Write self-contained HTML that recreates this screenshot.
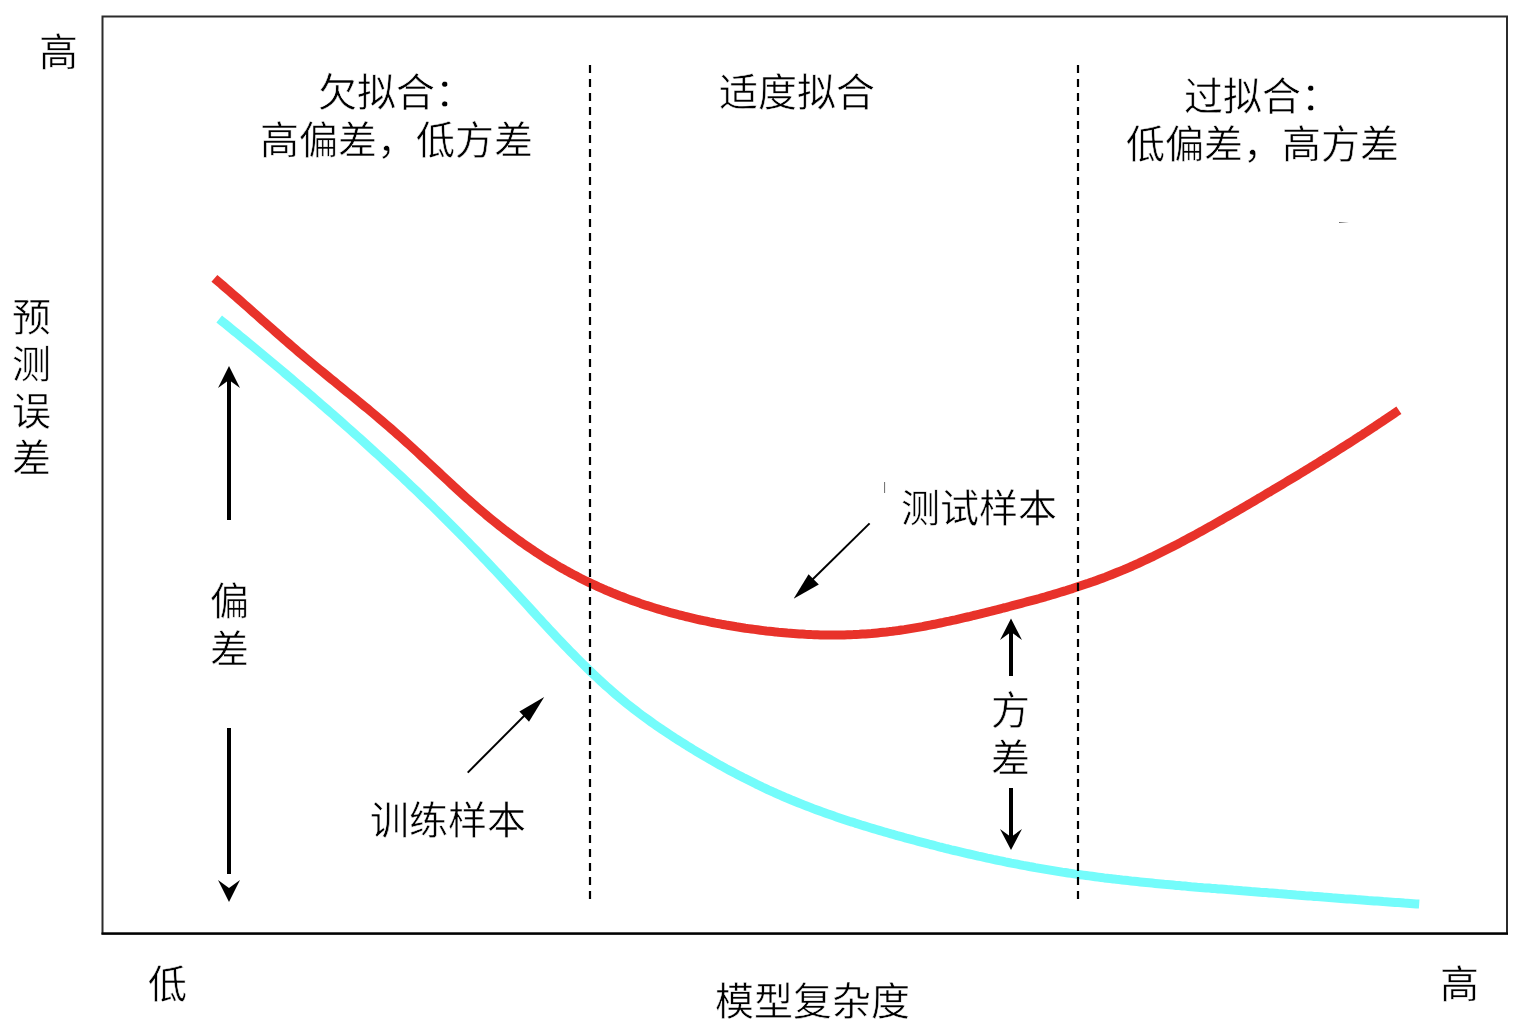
<!DOCTYPE html>
<html lang="zh-CN">
<head>
<meta charset="utf-8">
<title>偏差与方差</title>
<style>
html,body{margin:0;padding:0;background:#fff;}
body{width:1536px;height:1028px;position:relative;overflow:hidden;font-family:"Liberation Sans",sans-serif;color:#000;}
svg{position:absolute;left:0;top:0;}
.t{position:absolute;font-size:39px;line-height:48px;white-space:nowrap;-webkit-text-stroke:0.5px #fff;will-change:transform;paint-order:fill stroke;}
.c{text-align:center;}
.v{width:40px;text-align:center;}
</style>
</head>
<body>
<svg width="1536" height="1028" viewBox="0 0 1536 1028">
  <path d="M102.5,16.5 H1507 V933.5 H102.5 Z" fill="none" stroke="#2b2b2b" stroke-width="2"/>
  <line x1="101.5" y1="933.6" x2="1508" y2="933.6" stroke="#000" stroke-width="2.2"/>
  <path d="M214.4,278.3 L217.4,280.9 L220.4,283.4 L223.4,286.0 L226.4,288.6 L229.4,291.2 L232.4,293.8 L235.4,296.4 L238.4,299.0 L241.4,301.7 L244.4,304.3 L247.4,306.9 L250.4,309.6 L253.4,312.3 L256.4,314.9 L259.4,317.6 L262.4,320.3 L265.4,322.9 L268.4,325.6 L271.4,328.2 L274.4,330.9 L277.4,333.5 L280.4,336.2 L283.4,338.8 L286.4,341.4 L289.4,344.0 L292.4,346.6 L295.4,349.2 L298.4,351.8 L301.4,354.3 L304.4,356.9 L307.4,359.4 L310.4,361.9 L313.4,364.4 L316.4,366.9 L319.4,369.4 L322.4,371.8 L325.4,374.3 L328.4,376.8 L331.4,379.2 L334.4,381.6 L337.4,384.1 L340.4,386.5 L343.4,389.0 L346.4,391.4 L349.4,393.9 L352.4,396.3 L355.4,398.8 L358.4,401.2 L361.4,403.7 L364.4,406.2 L367.4,408.6 L370.4,411.1 L373.4,413.6 L376.4,416.2 L379.4,418.7 L382.4,421.2 L385.4,423.8 L388.4,426.4 L391.4,429.0 L394.4,431.6 L397.4,434.3 L400.4,436.9 L403.4,439.6 L406.4,442.3 L409.4,445.0 L412.4,447.8 L415.4,450.5 L418.4,453.3 L421.4,456.1 L424.4,458.9 L427.4,461.7 L430.4,464.5 L433.4,467.3 L436.4,470.1 L439.4,472.9 L442.4,475.7 L445.4,478.5 L448.4,481.3 L451.4,484.1 L454.4,486.8 L457.4,489.6 L460.4,492.3 L463.4,495.1 L466.4,497.8 L469.4,500.4 L472.4,503.1 L475.4,505.7 L478.4,508.3 L481.4,510.9 L484.4,513.4 L487.4,516.0 L490.4,518.4 L493.4,520.9 L496.4,523.3 L499.4,525.7 L502.4,528.0 L505.4,530.4 L508.4,532.6 L511.4,534.9 L514.4,537.1 L517.4,539.3 L520.4,541.5 L523.4,543.6 L526.4,545.7 L529.4,547.8 L532.4,549.8 L535.4,551.9 L538.4,553.8 L541.4,555.8 L544.4,557.7 L547.4,559.6 L550.4,561.4 L553.4,563.2 L556.4,565.0 L559.4,566.8 L562.4,568.5 L565.4,570.2 L568.4,571.8 L571.4,573.5 L574.4,575.1 L577.4,576.6 L580.4,578.2 L583.4,579.7 L586.4,581.2 L589.4,582.6 L592.4,584.0 L595.4,585.4 L598.4,586.8 L601.4,588.1 L604.4,589.5 L607.4,590.8 L610.4,592.0 L613.4,593.3 L616.4,594.5 L619.4,595.7 L622.4,596.8 L625.4,598.0 L628.4,599.1 L631.4,600.2 L634.4,601.3 L637.4,602.3 L640.4,603.4 L643.4,604.4 L646.4,605.4 L649.4,606.3 L652.4,607.3 L655.4,608.2 L658.4,609.1 L661.4,610.0 L664.4,610.9 L667.4,611.7 L670.4,612.6 L673.4,613.4 L676.4,614.2 L679.4,615.0 L682.4,615.7 L685.4,616.5 L688.4,617.2 L691.4,617.9 L694.4,618.6 L697.4,619.3 L700.4,620.0 L703.4,620.6 L706.4,621.2 L709.4,621.9 L712.4,622.5 L715.4,623.1 L718.4,623.6 L721.4,624.2 L724.4,624.7 L727.4,625.3 L730.4,625.8 L733.4,626.3 L736.4,626.8 L739.4,627.2 L742.4,627.7 L745.4,628.2 L748.4,628.6 L751.4,629.0 L754.4,629.4 L757.4,629.8 L760.4,630.2 L763.4,630.6 L766.4,631.0 L769.4,631.3 L772.4,631.6 L775.4,631.9 L778.4,632.3 L781.4,632.5 L784.4,632.8 L787.4,633.1 L790.4,633.3 L793.4,633.5 L796.4,633.7 L799.4,633.9 L802.4,634.1 L805.4,634.3 L808.4,634.4 L811.4,634.6 L814.4,634.7 L817.4,634.8 L820.4,634.9 L823.4,634.9 L826.4,635.0 L829.4,635.0 L832.4,635.0 L835.4,635.0 L838.4,635.0 L841.4,634.9 L844.4,634.9 L847.4,634.8 L850.4,634.7 L853.4,634.6 L856.4,634.4 L859.4,634.3 L862.4,634.1 L865.4,633.9 L868.4,633.7 L871.4,633.5 L874.4,633.2 L877.4,632.9 L880.4,632.6 L883.4,632.3 L886.4,632.0 L889.4,631.6 L892.4,631.3 L895.4,630.9 L898.4,630.5 L901.4,630.0 L904.4,629.6 L907.4,629.1 L910.4,628.6 L913.4,628.1 L916.4,627.6 L919.4,627.1 L922.4,626.6 L925.4,626.0 L928.4,625.4 L931.4,624.8 L934.4,624.3 L937.4,623.6 L940.4,623.0 L943.4,622.4 L946.4,621.7 L949.4,621.1 L952.4,620.4 L955.4,619.8 L958.4,619.1 L961.4,618.4 L964.4,617.7 L967.4,617.0 L970.4,616.3 L973.4,615.5 L976.4,614.8 L979.4,614.1 L982.4,613.3 L985.4,612.6 L988.4,611.8 L991.4,611.1 L994.4,610.3 L997.4,609.6 L1000.4,608.8 L1003.4,608.0 L1006.4,607.3 L1009.4,606.5 L1012.4,605.7 L1015.4,604.9 L1018.4,604.1 L1021.4,603.3 L1024.4,602.5 L1027.4,601.7 L1030.4,600.9 L1033.4,600.1 L1036.4,599.3 L1039.4,598.5 L1042.4,597.6 L1045.4,596.8 L1048.4,595.9 L1051.4,595.0 L1054.4,594.1 L1057.4,593.2 L1060.4,592.3 L1063.4,591.4 L1066.4,590.5 L1069.4,589.5 L1072.4,588.6 L1075.4,587.6 L1078.4,586.6 L1081.4,585.6 L1084.4,584.6 L1087.4,583.6 L1090.4,582.5 L1093.4,581.5 L1096.4,580.4 L1099.4,579.3 L1102.4,578.2 L1105.4,577.1 L1108.4,575.9 L1111.4,574.7 L1114.4,573.5 L1117.4,572.3 L1120.4,571.1 L1123.4,569.9 L1126.4,568.6 L1129.4,567.3 L1132.4,566.0 L1135.4,564.6 L1138.4,563.3 L1141.4,561.9 L1144.4,560.5 L1147.4,559.1 L1150.4,557.7 L1153.4,556.3 L1156.4,554.8 L1159.4,553.3 L1162.4,551.8 L1165.4,550.3 L1168.4,548.8 L1171.4,547.3 L1174.4,545.7 L1177.4,544.2 L1180.4,542.6 L1183.4,541.0 L1186.4,539.4 L1189.4,537.8 L1192.4,536.2 L1195.4,534.6 L1198.4,532.9 L1201.4,531.3 L1204.4,529.6 L1207.4,527.9 L1210.4,526.3 L1213.4,524.6 L1216.4,522.9 L1219.4,521.2 L1222.4,519.5 L1225.4,517.7 L1228.4,516.0 L1231.4,514.3 L1234.4,512.6 L1237.4,510.8 L1240.4,509.1 L1243.4,507.3 L1246.4,505.6 L1249.4,503.8 L1252.4,502.1 L1255.4,500.3 L1258.4,498.5 L1261.4,496.8 L1264.4,495.0 L1267.4,493.2 L1270.4,491.5 L1273.4,489.7 L1276.4,487.9 L1279.4,486.1 L1282.4,484.3 L1285.4,482.5 L1288.4,480.7 L1291.4,478.9 L1294.4,477.1 L1297.4,475.3 L1300.4,473.5 L1303.4,471.7 L1306.4,469.8 L1309.4,468.0 L1312.4,466.2 L1315.4,464.3 L1318.4,462.5 L1321.4,460.6 L1324.4,458.7 L1327.4,456.9 L1330.4,455.0 L1333.4,453.1 L1336.4,451.2 L1339.4,449.3 L1342.4,447.4 L1345.4,445.5 L1348.4,443.6 L1351.4,441.7 L1354.4,439.8 L1357.4,437.8 L1360.4,435.9 L1363.4,433.9 L1366.4,432.0 L1369.4,430.0 L1372.4,428.0 L1375.4,426.1 L1378.4,424.1 L1381.4,422.1 L1384.4,420.0 L1387.4,418.0 L1390.4,416.0 L1393.4,414.0 L1396.4,411.9 L1398.9,410.2" fill="none" stroke="#e8322a" stroke-width="9" stroke-linejoin="round"/>
  <path d="M219.2,319.0 L222.2,321.4 L225.2,323.8 L228.2,326.3 L231.2,328.7 L234.2,331.2 L237.2,333.6 L240.2,336.1 L243.2,338.5 L246.2,341.0 L249.2,343.4 L252.2,345.9 L255.2,348.4 L258.2,350.9 L261.2,353.4 L264.2,355.9 L267.2,358.4 L270.2,360.9 L273.2,363.4 L276.2,365.9 L279.2,368.4 L282.2,370.9 L285.2,373.5 L288.2,376.0 L291.2,378.5 L294.2,381.1 L297.2,383.6 L300.2,386.2 L303.2,388.8 L306.2,391.3 L309.2,393.9 L312.2,396.5 L315.2,399.1 L318.2,401.7 L321.2,404.3 L324.2,406.9 L327.2,409.5 L330.2,412.1 L333.2,414.7 L336.2,417.4 L339.2,420.0 L342.2,422.7 L345.2,425.3 L348.2,428.0 L351.2,430.6 L354.2,433.3 L357.2,436.0 L360.2,438.7 L363.2,441.4 L366.2,444.1 L369.2,446.8 L372.2,449.6 L375.2,452.3 L378.2,455.0 L381.2,457.8 L384.2,460.6 L387.2,463.3 L390.2,466.1 L393.2,468.9 L396.2,471.7 L399.2,474.5 L402.2,477.3 L405.2,480.2 L408.2,483.0 L411.2,485.9 L414.2,488.7 L417.2,491.6 L420.2,494.5 L423.2,497.4 L426.2,500.3 L429.2,503.2 L432.2,506.1 L435.2,509.1 L438.2,512.0 L441.2,515.0 L444.2,518.0 L447.2,521.0 L450.2,524.0 L453.2,527.0 L456.2,530.0 L459.2,533.0 L462.2,536.1 L465.2,539.1 L468.2,542.2 L471.2,545.3 L474.2,548.4 L477.2,551.5 L480.2,554.6 L483.2,557.8 L486.2,560.9 L489.2,564.1 L492.2,567.3 L495.2,570.5 L498.2,573.7 L501.2,576.9 L504.2,580.2 L507.2,583.4 L510.2,586.7 L513.2,589.9 L516.2,593.2 L519.2,596.5 L522.2,599.8 L525.2,603.0 L528.2,606.3 L531.2,609.6 L534.2,612.9 L537.2,616.2 L540.2,619.4 L543.2,622.7 L546.2,625.9 L549.2,629.2 L552.2,632.4 L555.2,635.6 L558.2,638.8 L561.2,641.9 L564.2,645.1 L567.2,648.2 L570.2,651.3 L573.2,654.3 L576.2,657.4 L579.2,660.4 L582.2,663.4 L585.2,666.3 L588.2,669.3 L591.2,672.1 L594.2,675.0 L597.2,677.8 L600.2,680.6 L603.2,683.3 L606.2,686.1 L609.2,688.7 L612.2,691.4 L615.2,694.0 L618.2,696.5 L621.2,699.0 L624.2,701.5 L627.2,703.9 L630.2,706.3 L633.2,708.6 L636.2,710.9 L639.2,713.2 L642.2,715.5 L645.2,717.7 L648.2,719.8 L651.2,722.0 L654.2,724.1 L657.2,726.2 L660.2,728.2 L663.2,730.3 L666.2,732.3 L669.2,734.3 L672.2,736.2 L675.2,738.2 L678.2,740.1 L681.2,742.0 L684.2,743.9 L687.2,745.8 L690.2,747.6 L693.2,749.5 L696.2,751.3 L699.2,753.1 L702.2,754.9 L705.2,756.7 L708.2,758.4 L711.2,760.2 L714.2,761.9 L717.2,763.6 L720.2,765.3 L723.2,766.9 L726.2,768.6 L729.2,770.2 L732.2,771.8 L735.2,773.4 L738.2,775.0 L741.2,776.5 L744.2,778.1 L747.2,779.6 L750.2,781.1 L753.2,782.6 L756.2,784.1 L759.2,785.5 L762.2,787.0 L765.2,788.4 L768.2,789.8 L771.2,791.1 L774.2,792.5 L777.2,793.8 L780.2,795.2 L783.2,796.5 L786.2,797.8 L789.2,799.0 L792.2,800.3 L795.2,801.5 L798.2,802.7 L801.2,803.9 L804.2,805.1 L807.2,806.3 L810.2,807.4 L813.2,808.6 L816.2,809.7 L819.2,810.8 L822.2,811.9 L825.2,813.0 L828.2,814.1 L831.2,815.1 L834.2,816.1 L837.2,817.2 L840.2,818.2 L843.2,819.2 L846.2,820.2 L849.2,821.2 L852.2,822.1 L855.2,823.1 L858.2,824.0 L861.2,825.0 L864.2,825.9 L867.2,826.8 L870.2,827.7 L873.2,828.6 L876.2,829.5 L879.2,830.4 L882.2,831.3 L885.2,832.2 L888.2,833.0 L891.2,833.9 L894.2,834.7 L897.2,835.6 L900.2,836.4 L903.2,837.2 L906.2,838.1 L909.2,838.9 L912.2,839.7 L915.2,840.5 L918.2,841.3 L921.2,842.1 L924.2,842.9 L927.2,843.7 L930.2,844.5 L933.2,845.2 L936.2,846.0 L939.2,846.8 L942.2,847.5 L945.2,848.3 L948.2,849.0 L951.2,849.8 L954.2,850.5 L957.2,851.2 L960.2,851.9 L963.2,852.6 L966.2,853.3 L969.2,854.0 L972.2,854.7 L975.2,855.4 L978.2,856.1 L981.2,856.7 L984.2,857.4 L987.2,858.1 L990.2,858.7 L993.2,859.4 L996.2,860.0 L999.2,860.6 L1002.2,861.2 L1005.2,861.9 L1008.2,862.5 L1011.2,863.1 L1014.2,863.6 L1017.2,864.2 L1020.2,864.8 L1023.2,865.4 L1026.2,865.9 L1029.2,866.5 L1032.2,867.0 L1035.2,867.6 L1038.2,868.1 L1041.2,868.6 L1044.2,869.1 L1047.2,869.6 L1050.2,870.1 L1053.2,870.6 L1056.2,871.1 L1059.2,871.6 L1062.2,872.1 L1065.2,872.5 L1068.2,873.0 L1071.2,873.4 L1074.2,873.9 L1077.2,874.3 L1080.2,874.7 L1083.2,875.1 L1086.2,875.5 L1089.2,875.9 L1092.2,876.3 L1095.2,876.7 L1098.2,877.1 L1101.2,877.5 L1104.2,877.9 L1107.2,878.2 L1110.2,878.6 L1113.2,878.9 L1116.2,879.3 L1119.2,879.6 L1122.2,880.0 L1125.2,880.3 L1128.2,880.6 L1131.2,881.0 L1134.2,881.3 L1137.2,881.6 L1140.2,881.9 L1143.2,882.2 L1146.2,882.5 L1149.2,882.8 L1152.2,883.1 L1155.2,883.4 L1158.2,883.7 L1161.2,884.0 L1164.2,884.3 L1167.2,884.5 L1170.2,884.8 L1173.2,885.1 L1176.2,885.4 L1179.2,885.6 L1182.2,885.9 L1185.2,886.1 L1188.2,886.4 L1191.2,886.7 L1194.2,886.9 L1197.2,887.2 L1200.2,887.4 L1203.2,887.7 L1206.2,887.9 L1209.2,888.1 L1212.2,888.4 L1215.2,888.6 L1218.2,888.9 L1221.2,889.1 L1224.2,889.3 L1227.2,889.6 L1230.2,889.8 L1233.2,890.1 L1236.2,890.3 L1239.2,890.5 L1242.2,890.8 L1245.2,891.0 L1248.2,891.2 L1251.2,891.5 L1254.2,891.7 L1257.2,891.9 L1260.2,892.2 L1263.2,892.4 L1266.2,892.6 L1269.2,892.9 L1272.2,893.1 L1275.2,893.3 L1278.2,893.6 L1281.2,893.8 L1284.2,894.0 L1287.2,894.3 L1290.2,894.5 L1293.2,894.7 L1296.2,895.0 L1299.2,895.2 L1302.2,895.4 L1305.2,895.7 L1308.2,895.9 L1311.2,896.1 L1314.2,896.4 L1317.2,896.6 L1320.2,896.8 L1323.2,897.1 L1326.2,897.3 L1329.2,897.5 L1332.2,897.8 L1335.2,898.0 L1338.2,898.2 L1341.2,898.4 L1344.2,898.7 L1347.2,898.9 L1350.2,899.1 L1353.2,899.3 L1356.2,899.6 L1359.2,899.8 L1362.2,900.0 L1365.2,900.2 L1368.2,900.5 L1371.2,900.7 L1374.2,900.9 L1377.2,901.1 L1380.2,901.3 L1383.2,901.6 L1386.2,901.8 L1389.2,902.0 L1392.2,902.2 L1395.2,902.4 L1398.2,902.6 L1401.2,902.8 L1404.2,903.1 L1407.2,903.3 L1410.2,903.5 L1413.2,903.7 L1416.2,903.9 L1419.2,904.1" fill="none" stroke="#74fcfb" stroke-width="9" stroke-linejoin="round"/>
  <line x1="590" y1="65" x2="590" y2="899" stroke="#000" stroke-width="2.2" stroke-dasharray="8 6"/>
  <line x1="1078" y1="65" x2="1078" y2="899" stroke="#000" stroke-width="2.2" stroke-dasharray="8 6"/>
  <rect x="227" y="376" width="4" height="144" fill="#000"/>
  <path d="M229,366 L240,388 L229,380 L218,388 Z" fill="#000"/>
  <rect x="227" y="728" width="4" height="146" fill="#000"/>
  <path d="M229,902 L240,880 L229,888 L218,880 Z" fill="#000"/>
  <rect x="1009" y="630" width="4" height="46" fill="#000"/>
  <path d="M1011,618.5 L1022,640 L1011,632 L1000,640 Z" fill="#000"/>
  <rect x="1009" y="788" width="4" height="52" fill="#000"/>
  <path d="M1011,850 L1022,829 L1011,837 L1000,829 Z" fill="#000"/>
  <line x1="869.6" y1="523.4" x2="812" y2="580" stroke="#000" stroke-width="2"/>
  <path d="M793.6,598.7 L808.6,574.2 L818.8,584.4 Z" fill="#000"/>
  <line x1="467.7" y1="772.6" x2="526" y2="714" stroke="#000" stroke-width="2"/>
  <path d="M544.2,696.9 L519.4,711.6 L529,721.8 Z" fill="#000"/>
  <line x1="884.6" y1="482" x2="884.6" y2="493" stroke="#444" stroke-width="0.8"/>
  <path d="M1339,221.9 L1349,222.4 L1349,222.6 L1339,223.1 Z" fill="#666"/>
</svg>
<div class="t" style="left:39px;top:29px;">高</div>
<div class="t c" style="left:256px;top:69px;width:280px;">欠拟合：<br>高偏差，低方差</div>
<div class="t" style="left:719px;top:69px;">适度拟合</div>
<div class="t c" style="left:1122px;top:73px;width:280px;">过拟合：<br>低偏差，高方差</div>
<div class="t v" style="left:11px;top:294px;line-height:47px;">预<br>测<br>误<br>差</div>
<div class="t v" style="left:209px;top:578px;">偏<br>差</div>
<div class="t" style="left:901px;top:485px;">测试样本</div>
<div class="t" style="left:370px;top:797px;">训练样本</div>
<div class="t v" style="left:990px;top:687px;">方<br>差</div>
<div class="t" style="left:148px;top:961px;">低</div>
<div class="t" style="left:715px;top:978px;">模型复杂度</div>
<div class="t" style="left:1440px;top:961px;">高</div>
</body>
</html>
